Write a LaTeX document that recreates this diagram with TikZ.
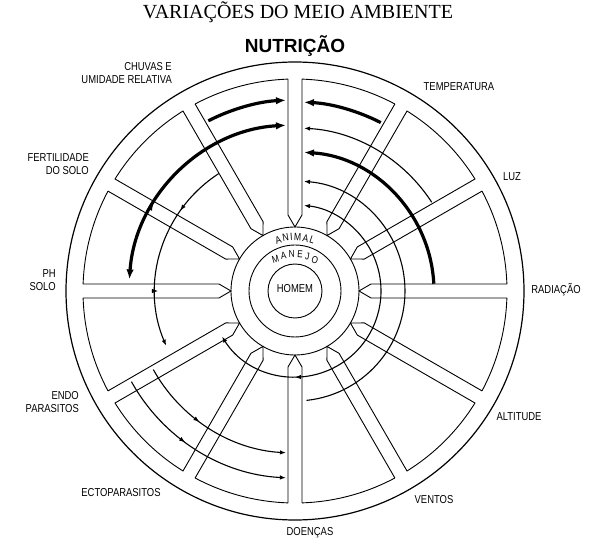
\documentclass[tikz,border=0pt]{standalone}
\usepackage{fontspec}
\newfontfamily\labfont[FakeStretch=0.82]{Liberation Sans}
\newfontfamily\titlefont{Liberation Serif}
\newfontfamily\headfont{Liberation Sans}
\usetikzlibrary{arrows.meta, decorations.markings}

\tikzset{
  mid_arr/.style={postaction={decorate, decoration={markings,
    mark=at position #1 with {\arrow{Latex[length=6pt,width=4.5pt]}}}}},
  mid_back/.style={postaction={decorate, decoration={markings,
    mark=at position #1 with {\arrowreversed{Latex[length=6pt,width=4.5pt]}}}}},
  mid_tick/.style={postaction={decorate, decoration={markings,
    mark=at position #1 with {\draw[line width=0.8pt] (0,-3) -- (0,3);}}}}
}

\begin{document}
\begin{tikzpicture}[x=1pt, y=1pt]
\tikzstyle{lab_text}=[font=\labfont\fontsize{11.5}{12.5}\selectfont, inner sep=0pt]
\tikzstyle{hub_letter}=[font=\labfont\fontsize{10.5}{11}\selectfont, inner sep=0pt, anchor=center]
\tikzstyle{wheel_line}=[line width=0.9pt]
\tikzstyle{thick_arr}=[line width=3.2pt, -{Latex[length=10pt,width=7.5pt]}]
\tikzstyle{thin_arr}=[line width=1.1pt, -{Latex[length=6pt,width=4.5pt]}]
%
\useasboundingbox (-295,-260) rectangle (302,291);
%
\node [font=\titlefont\fontsize{20}{22}\selectfont] (title) at (3,279) {VARIAÇÕES DO MEIO AMBIENTE};
\node [font=\headfont\bfseries\fontsize{19}{22}\selectfont] (nutricao) at (0,245) {NUTRIÇÃO};
%
% rim, panels and spokes
\draw [wheel_line, line width=1.2pt] (0,0) circle [radius=229];
\foreach \a in {0,30,...,330} {
  \draw [wheel_line, rotate=\a] (212,7) -- (76,7) -- (64,0) -- (76,-7) -- (212,-7);
  \draw [wheel_line] (\a+1.9:212) arc [start angle=\a+1.9, end angle=\a+28.1, radius=212];
}
%
% hub
\draw [wheel_line] (0,0) circle [radius=64];
\draw [wheel_line] (0,0) circle [radius=46];
\draw [wheel_line] (0,0) circle [radius=27];
\node [lab_text] (homem) at (0,2) {HOMEM};
\foreach \c/\b in {A/108.2, N/100.1, I/93.9, M/87.2, A/78.6, L/71.3}
  \node [hub_letter, rotate=\b-90] at (\b:54) {\c};
\foreach \c/\b in {M/122, A/108, N/95, E/82, J/70.5, O/57.5}
  \node [hub_letter, font=\labfont\fontsize{10}{11}\selectfont, rotate=(\b-90)/2] at (\b:37) {\c};
%
% arrows from the right
\draw [thick_arr] (63:189) arc [start angle=63, end angle=87.3, radius=189];
\draw [thin_arr] (33:163) arc [start angle=33, end angle=86.8, radius=163];
\draw [thick_arr] (3:139) arc [start angle=3, end angle=86.3, radius=139];
\draw [thin_arr] (-84:110) arc [start angle=-84, end angle=85.3, radius=110];
\draw [thin_arr, {Latex[length=6pt,width=4.5pt]}-{Latex[length=6pt,width=4.5pt]}, mid_back=0.25]
  (-148:86) arc [start angle=-148, end angle=84, radius=86];
%
% arrows from the left
\draw [thick_arr] (117:191) arc [start angle=117, end angle=92.7, radius=191];
\draw [thick_arr, {Latex[length=10pt,width=7.5pt]}-{Latex[length=10pt,width=7.5pt]}, mid_arr=0.33]
  (176:166) arc [start angle=176, end angle=93.1, radius=166];
\draw [thin_arr, mid_arr=0.275, mid_tick=0.7125] (123:140) arc [start angle=123, end angle=203, radius=140];
\draw [thin_arr, mid_arr=0.43] (209:162) arc [start angle=209, end angle=266.8, radius=162];
\draw [thin_arr, mid_arr=0.43] (209:187) arc [start angle=209, end angle=267.2, radius=187];
%
% labels
\node [lab_text, align=right, anchor=east] (chuvas) at (-123,218) {CHUVAS E\\UMIDADE RELATIVA};
\node [lab_text] (temperatura) at (164,204) {TEMPERATURA};
\node [lab_text] (luz) at (217,114) {LUZ};
\node [lab_text] (radiacao) at (261,1) {RADIAÇÃO};
\node [lab_text] (altitude) at (224,-126) {ALTITUDE};
\node [lab_text] (ventos) at (139,-209) {VENTOS};
\node [lab_text] (doencas) at (15,-242) {DOENÇAS};
\node [lab_text] (ecto) at (-174,-202) {ECTOPARASITOS};
\node [lab_text, align=right, anchor=east] (endo) at (-216,-111) {ENDO\\PARASITOS};
\node [lab_text, align=right, anchor=east] (ph) at (-239,11) {PH\\SOLO};
\node [lab_text, align=right, anchor=east] (fertilidade) at (-206,127) {FERTILIDADE\\DO SOLO};
%
\end{tikzpicture}
\end{document}
